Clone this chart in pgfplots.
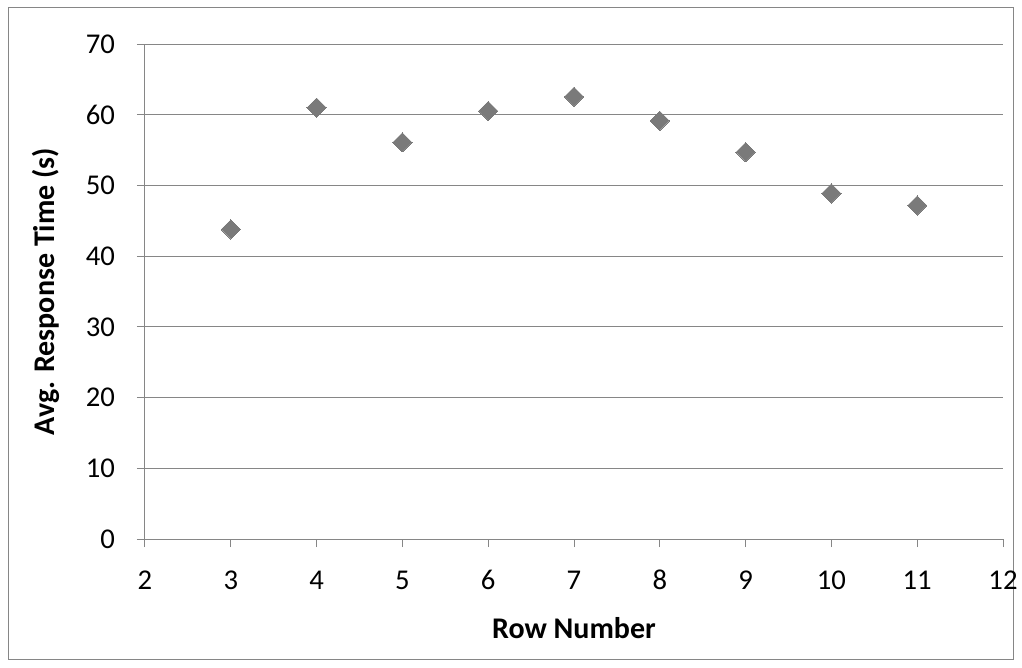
\documentclass[border=0pt]{standalone}
\usepackage{pgfplots}
\pgfplotsset{compat=1.18}
\usepackage{fontspec}
\setmainfont{Carlito}
\definecolor{gridc}{HTML}{868686}
\definecolor{markc}{HTML}{7A7A7A}
\begin{document}
\begin{tikzpicture}
\path[use as bounding box] (0,0) rectangle (766.5pt,501pt);
\draw[gridc, line width=0.75pt] (6pt,6pt) rectangle (760pt,495pt);
\begin{axis}[
  at={(108.75pt,96.75pt)}, anchor=south west,
  scale only axis, width=643.5pt, height=371.25pt,
  xmin=2, xmax=12, ymin=0, ymax=70,
  xtick={2,...,12}, ytick={0,10,...,70},
  axis x line*=bottom, axis y line*=left,
  axis line style={gridc, line width=0.75pt, -},
  ymajorgrids, grid style={gridc, line width=0.75pt},
  tick style={gridc, line width=0.75pt},
  tick align=outside, major tick length=6pt,
  ticklabel style={font=\fontsize{21.5}{26}\selectfont, text=black},
  /pgf/number format/assume math mode=true,
  xticklabel style={yshift=-22pt, text height=0.66em, text depth=0pt},
  yticklabel style={xshift=-13pt},
  xlabel={\bfseries Row Number},
  ylabel={\bfseries Avg. Response Time (s)},
  label style={font=\fontsize{22.5}{26}\selectfont\bfseries},
  xlabel style={yshift=-14pt},
  ylabel style={yshift=13pt},
]
\addplot[only marks, mark=square*, mark size=5.1pt,
  mark options={rotate=45, fill=markc, draw=markc, line width=0pt}]
coordinates {
(3,43.78) (4,60.99) (5,56.09) (6,60.52) (7,62.55)
(8,59.15) (9,54.72) (10,48.87) (11,47.17)
};
\end{axis}
\end{tikzpicture}
\end{document}
